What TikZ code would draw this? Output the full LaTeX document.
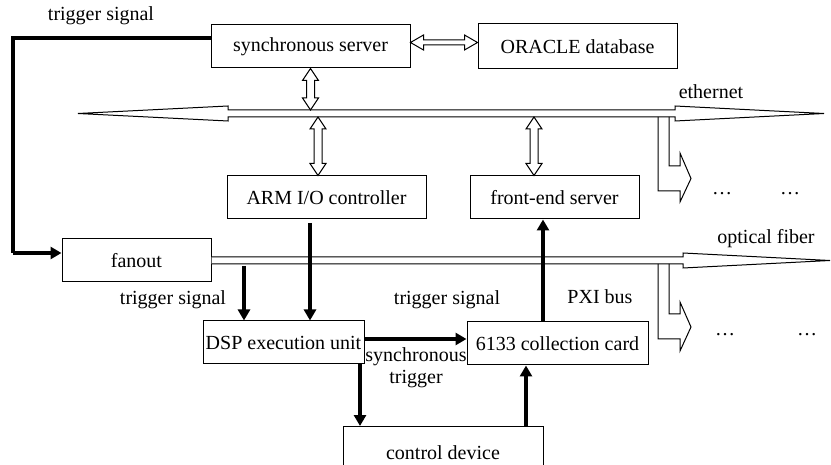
\documentclass[tikz,border=0pt]{standalone}
\usepackage{fontspec}
\setmainfont{Liberation Serif}
\usetikzlibrary{calc,arrows.meta}
\newcommand\VDA[2]{%
  \draw[thinline,fill=white] (#1) -- ($(#1)+(8,12)$) -- ($(#1)+(4,12)$) -- ($(#2)+(4,-12)$) -- ($(#2)+(8,-12)$) -- (#2)
    -- ($(#2)+(-8,-12)$) -- ($(#2)+(-4,-12)$) -- ($(#1)+(-4,12)$) -- ($(#1)+(-8,12)$) -- cycle;}
\newcommand\HDA[2]{%
  \draw[thinline,fill=white] (#1) -- ($(#1)+(13,-7.5)$) -- ($(#1)+(13,-2.5)$) -- ($(#2)+(-13,-2.5)$) -- ($(#2)+(-13,-7.5)$) -- (#2)
    -- ($(#2)+(-13,7.5)$) -- ($(#2)+(-13,2.5)$) -- ($(#1)+(13,2.5)$) -- ($(#1)+(13,7.5)$) -- cycle;}
\begin{document}
\begin{tikzpicture}[x=1pt,y=-1pt,
  font=\fontsize{20}{24}\selectfont,
  thinline/.style={line width=1pt,line join=miter},
  box/.style={draw,thinline,minimum height=43pt,inner sep=0pt},
  lbl/.style={inner sep=0pt},
  thick arrow/.style={line width=3.6pt,-{Triangle[length=11pt,width=12pt]}},
  thick line/.style={line width=3.6pt}]
\clip (0,0) rectangle (831,465);
\fill[white] (0,0) rectangle (831,465);

% boxes
\node[box,minimum width=199pt] (sync) at (310.5,46.5) {synchronous server};
\node[box,minimum width=199pt,minimum height=45pt] (oracle) at (577.5,46.5) {ORACLE database};
\node[box,minimum width=199pt] (arm) at (326.5,197.5) {ARM I/O controller};
\node[box,minimum width=169pt] (front) at (554.5,197.5) {front-end server};
\node[box,minimum width=149pt] (fanout) at (136.5,260.5) {fanout};
\node[box,minimum width=161pt] (dsp) at (283.5,342.5) {DSP execution unit};
\node[box,minimum width=181pt] (card) at (557.5,343.5) {6133 collection card};
\node[box,minimum width=200pt,minimum height=60pt,anchor=north] (ctrl) at (443,426) {\raisebox{7pt}{control device}};

% ethernet bus
\draw[thinline,fill=white] (78,113.5) -- (228,106) -- (228,110) -- (675,110) -- (675,106) -- (824,113.5)
  -- (675,121) -- (675,117) -- (228,117) -- (228,121) -- cycle;
% optical fiber bus
\draw[thinline,fill=white] (fanout.east |- 0,257) -- (683,257) -- (683,253) -- (830,260.5) -- (683,268) -- (683,264) -- (fanout.east |- 0,264);

% branch arrows
\draw[thinline] (669,117) -- (669,166) -- (680,166) -- (680,153) -- (691,178.5) -- (680,202) -- (680,191) -- (658,191) -- (658,117);
\draw[thinline] (669,264) -- (669,314) -- (680,314) -- (680,302) -- (691,327) -- (680,351) -- (680,339) -- (658,339) -- (658,264);

% double arrows
\coordinate (e1) at (sync.east |- 0,42.5);
\coordinate (e2) at (oracle.west |- 0,42.5);
\HDA{e1}{e2}
\coordinate (v1a) at (sync.south);
\coordinate (v1b) at (310.5,110);
\VDA{v1a}{v1b}
\coordinate (v2a) at (318,117);
\coordinate (v2b) at (v2a |- arm.north);
\VDA{v2a}{v2b}
\coordinate (v3a) at (534,117);
\coordinate (v3b) at (v3a |- front.north);
\VDA{v3a}{v3b}

% thick signal arrows
\coordinate (t1) at ($(sync.west)+(0,-8.5)$);
\coordinate (t2) at (13,253);
\draw[thick line] (t1) -| (t2);
\draw[thick arrow] (t2) -- (t2 -| fanout.west);
\coordinate (f1) at (244,266);
\draw[thick arrow] (f1) -- (f1 |- dsp.north);
\coordinate (a1) at (310,223);
\draw[thick arrow] (a1) -- (a1 |- dsp.north);
\coordinate (d1) at (dsp.east |- 0,339);
\draw[thick arrow] (d1) -- (d1 -| card.west);
\coordinate (p1) at (card.north -| 543,0);
\draw[thick arrow] (p1) -- (p1 |- front.south);
\coordinate (d2) at (dsp.south -| 360,0);
\draw[thick arrow] (d2) -- (d2 |- ctrl.north);
\coordinate (c1) at (ctrl.north -| 526,0);
\draw[thick arrow] (c1) -- (c1 |- card.south);

% labels
\node[lbl] (l1) at (101,16) {trigger signal};
\node[lbl] (l2) at (173,300) {trigger signal};
\node[lbl] (l3) at (447,300) {trigger signal};
\node[lbl] (l4) at (600,297) {PXI bus};
\node[lbl] (l5) at (711,92) {ethernet};
\node[lbl] (l6) at (766,239) {optical fiber};
\node[lbl,align=center,font=\fontsize{20}{22}\selectfont] (l7) at (416,368) {synchronous\\trigger};
\node[lbl,anchor=base] (dt1) at (722,195) {\dots};
\node[lbl,anchor=base] (dt2) at (790,195) {\dots};
\node[lbl,anchor=base] (dt3) at (725,336) {\dots};
\node[lbl,anchor=base] (dt4) at (807,336) {\dots};
\end{tikzpicture}
\end{document}
